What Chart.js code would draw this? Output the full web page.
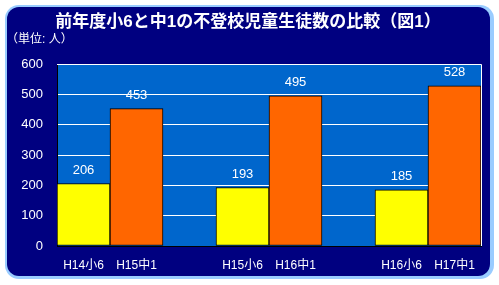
<!DOCTYPE html>
<html>
<head>
<meta charset="utf-8">
<script src="https://cdn.jsdelivr.net/npm/chart.js@4"></script>
<style>
  html, body { margin: 0; padding: 0; background: #fff; }
  #wrap { width: 499px; height: 285px; }
</style>
</head>
<body>
<div id="wrap"><canvas id="chart" width="499" height="285"></canvas></div>
<script>
// 小6 (前年度) と 中1 の人数
const titleText = '前年度小6と中1の不登校児童生徒数の比較（図1）';
const unitText = '（単位: 人）';
const elemLabels = ['H14小6', 'H15小6', 'H16小6'];
const elemValues = [206, 193, 185];
const juniorLabels = ['H15中1', 'H16中1', 'H17中1'];
const juniorValues = [453, 495, 528];
const yTicks = [0, 100, 200, 300, 400, 500, 600];

const FONT = '"Liberation Sans", "Noto Sans CJK JP", sans-serif';

// 3組を空きスロットで区切って並べる
const labels = [];
const values = [];
const colors = [];
elemLabels.forEach((l, i) => {
    if (i > 0) {
        labels.push('');
        values.push(null);
        colors.push('transparent');
    }
    labels.push(l);
    values.push(elemValues[i]);
    colors.push('#FFFF00');
    labels.push(juniorLabels[i]);
    values.push(juniorValues[i]);
    colors.push('#FF6600');
});

const roundRect = (ctx, x, y, w, h, r) => {
    ctx.beginPath();
    ctx.moveTo(x + r, y);
    ctx.arcTo(x + w, y, x + w, y + h, r);
    ctx.arcTo(x + w, y + h, x, y + h, r);
    ctx.arcTo(x, y + h, x, y, r);
    ctx.arcTo(x, y, x + w, y, r);
    ctx.closePath();
};

const framePlugin = {
    id: 'frame',
    beforeDraw(chart) {
        const ctx = chart.ctx;
        const a = chart.chartArea;
        ctx.save();
        ctx.fillStyle = '#99CCFF';
        roundRect(ctx, 5, 5, 489, 274, 14);
        ctx.fill();
        ctx.fillStyle = '#000080';
        roundRect(ctx, 7, 7, 483, 269, 12);
        ctx.fill();
        ctx.fillStyle = '#0066CC';
        ctx.fillRect(a.left, a.top, a.right - a.left, a.bottom - a.top);
        ctx.fillStyle = '#FFFFFF';
        ctx.textBaseline = 'middle';
        ctx.textAlign = 'center';
        ctx.font = 'bold 17px ' + FONT;
        ctx.fillText(titleText, 248, 22);
        ctx.textAlign = 'left';
        ctx.font = '12px ' + FONT;
        ctx.fillText(unitText, 6, 40);
        ctx.restore();
    },
    beforeDatasetsDraw(chart) {
        const ctx = chart.ctx;
        const a = chart.chartArea;
        ctx.save();
        ctx.strokeStyle = '#FFFFFF';
        ctx.lineWidth = 1;
        ctx.beginPath();
        ctx.moveTo(a.left, a.top + 0.5);
        ctx.lineTo(a.right + 0.5, a.top + 0.5);
        ctx.lineTo(a.right + 0.5, a.bottom);
        ctx.stroke();
        ctx.restore();
    },
    afterDatasetsDraw(chart) {
        const ctx = chart.ctx;
        const meta = chart.getDatasetMeta(0);
        ctx.save();
        ctx.fillStyle = '#FFFFFF';
        ctx.font = '13px ' + FONT;
        ctx.textAlign = 'center';
        ctx.textBaseline = 'middle';
        meta.data.forEach((bar, i) => {
            const v = values[i];
            if (v === null) return;
            ctx.fillText(String(v), bar.x, bar.y - 13);
        });
        ctx.restore();
    }
};

new Chart(document.getElementById('chart').getContext('2d'), {
    type: 'bar',
    data: {
        labels: labels,
        datasets: [{
            data: values,
            backgroundColor: colors,
            borderColor: '#000000',
            borderWidth: 1,
            borderSkipped: false,
            barPercentage: 1,
            categoryPercentage: 1
        }]
    },
    options: {
        responsive: false,
        animation: false,
        devicePixelRatio: 1,
        layout: {
            padding: { top: 64, left: 8, right: 18, bottom: 8 }
        },
        plugins: {
            legend: { display: false },
            tooltip: { enabled: false }
        },
        scales: {
            x: {
                grid: { display: false, drawTicks: false },
                border: { color: '#000000', width: 1 },
                ticks: {
                    color: '#FFFFFF',
                    font: { family: FONT, size: 12 },
                    padding: 12,
                    maxRotation: 0,
                    autoSkip: false
                },
                afterFit(scale) { scale.height = 31; }
            },
            y: {
                min: 0,
                max: 600,
                afterBuildTicks(scale) { scale.ticks = yTicks.map(v => ({ value: v })); },
                grid: { color: '#FFFFFF', lineWidth: 1, drawTicks: false },
                border: { color: '#000000', width: 1 },
                ticks: {
                    color: '#FFFFFF',
                    font: { family: FONT, size: 13 },
                    padding: 14
                },
                afterFit(scale) { scale.width = 49; }
            }
        }
    },
    plugins: [framePlugin]
});
</script>
</body>
</html>
